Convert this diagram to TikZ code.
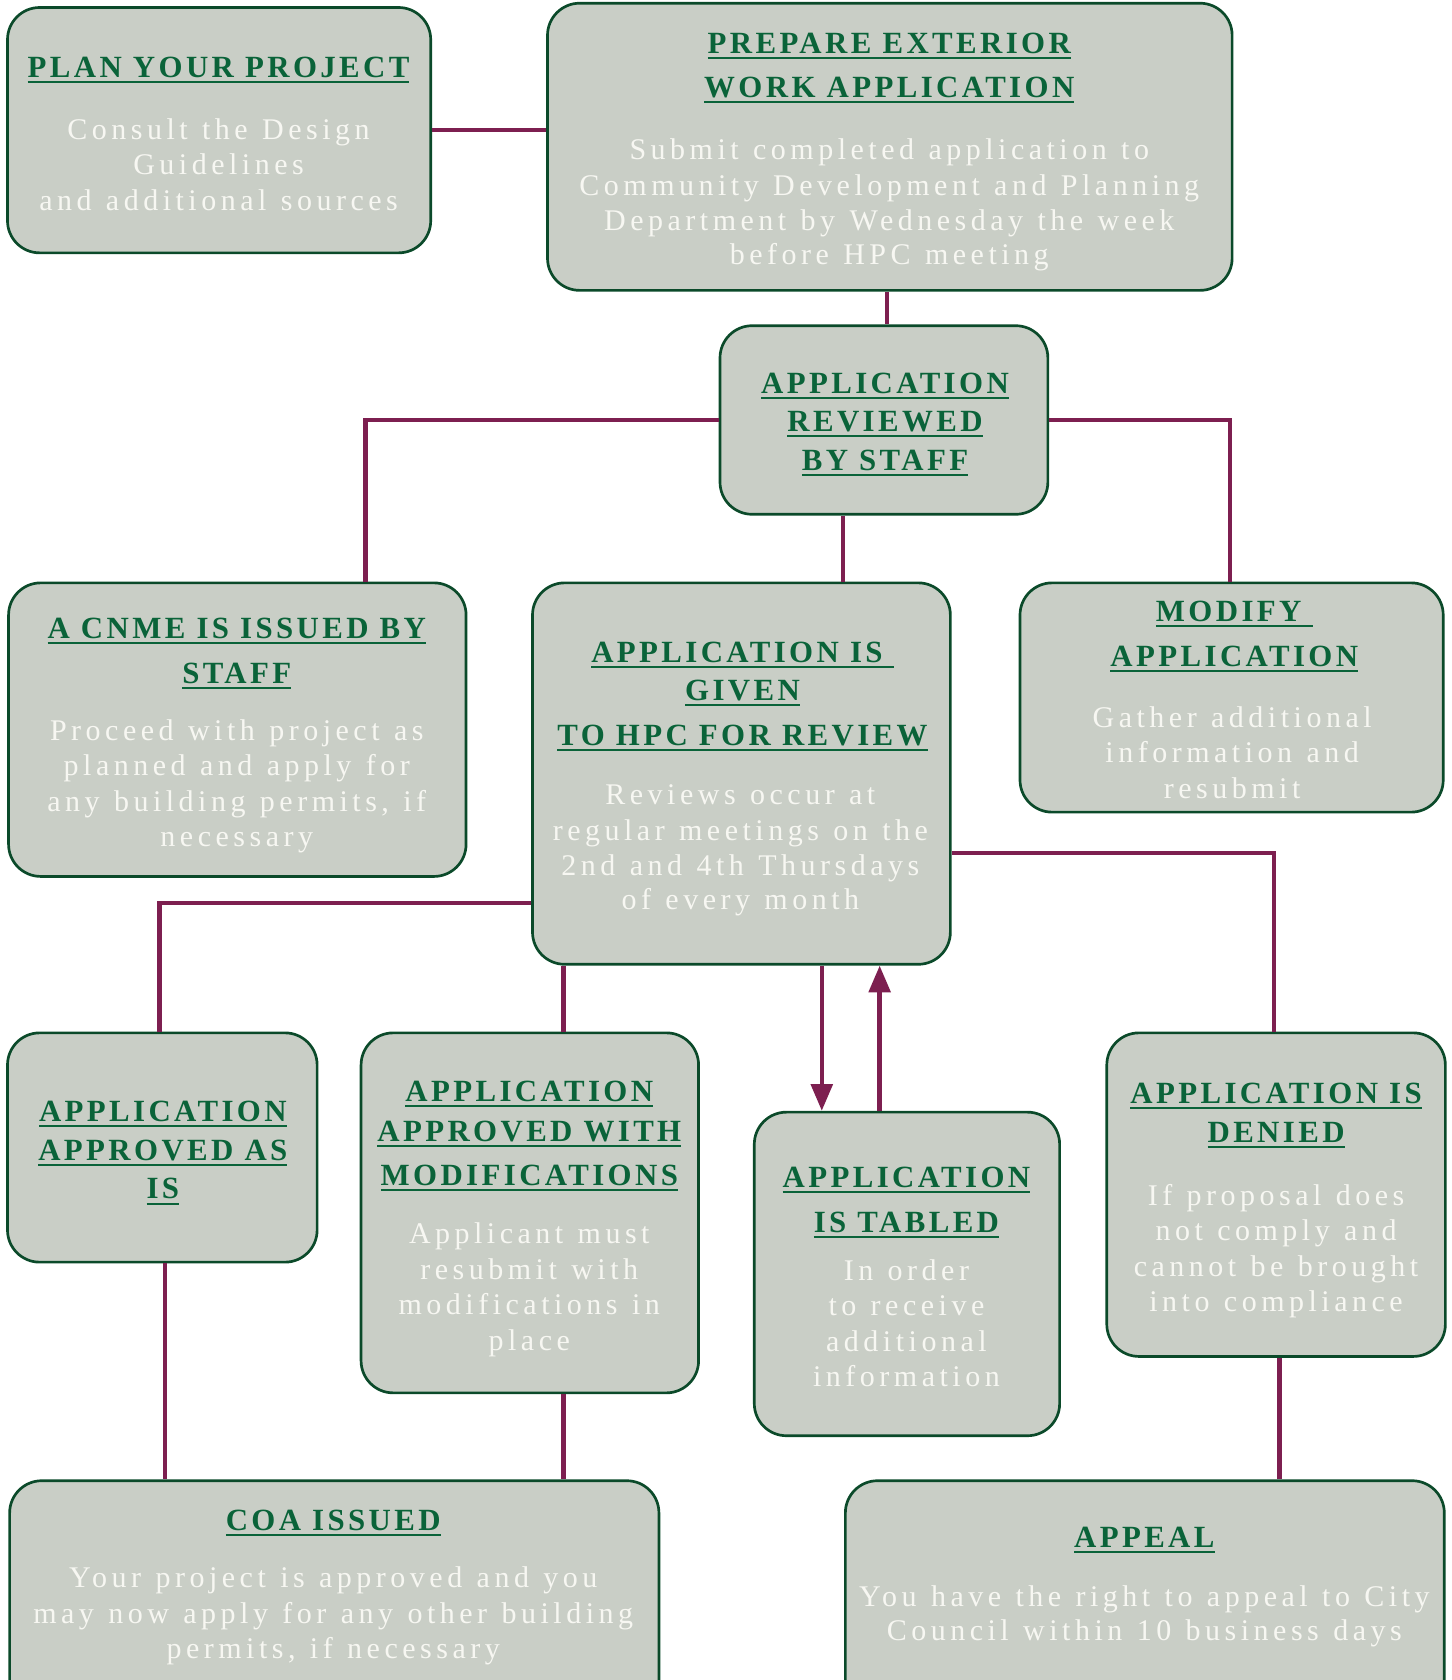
\documentclass[tikz,border=0pt]{standalone}
\usepackage{fontspec}
\setmainfont{Liberation Serif}
\usetikzlibrary{arrows.meta,calc}
\definecolor{boxfill}{HTML}{C9CEC6}
\definecolor{boxline}{HTML}{0B4A2A}
\definecolor{ttlgreen}{HTML}{0A6339}
\definecolor{connred}{HTML}{7D1F50}
\definecolor{bodytxt}{HTML}{F7F7F2}
\newcommand\ul[1]{\setbox0\hbox{#1}\rlap{\color{ttlgreen}\rule[-2.6pt]{\wd0}{0.9pt}}\box0}
\newcommand\bx[5]{\node[box, minimum width={(#4-#2)*0.5pt}, minimum height={(#5-#3)*0.5pt}] (#1) at ({(#2+#4)/2},{(#3+#5)/2}) {};}
\newcommand\tlines[4]{\foreach \yy/\tx [count=\k] in {#4} {\node[#1] (#2-\k) at (#3,\yy) {\tx};}}
\newcommand\widesp{\spaceskip=0.48em\relax}
\tikzset{
 box/.style={draw=boxline, line width=1.25pt, fill=boxfill, rounded corners=15pt, inner sep=0pt},
 ttl/.style={anchor=base, inner sep=0pt, text=ttlgreen, font=\fontsize{14.4}{17}\selectfont\bfseries\addfontfeature{LetterSpace=11}},
 bdy/.style={anchor=base, inner sep=0pt, text=bodytxt, font=\fontsize{14}{16}\selectfont\addfontfeature{LetterSpace=15}\widesp},
 conn/.style={draw=connred, line width=2.1pt},
 arr/.style={conn, -{Triangle[width=10pt,length=12.5pt]}},
}
\begin{document}
\begin{tikzpicture}[x=0.5pt,y=-0.5pt]
\path[use as bounding box, clip] (0,0) rectangle (1355,1568);
\fill[white] (0,0) rectangle (1355,1568);
% boxes
\bx{plan}{7}{7}{402}{236}
\bx{prep}{511}{3}{1150}{271}
\bx{rev}{672}{304}{978}{480}
\bx{cnme}{8}{544}{435}{818}
\bx{hpc}{497}{544}{887}{900}
\bx{modify}{952}{544}{1347}{758}
\bx{asis}{7}{964}{296}{1178}
\bx{mods}{337}{964}{652}{1300}
\bx{tabled}{704}{1038}{989}{1340}
\bx{denied}{1033}{964}{1349}{1266}
\bx{coa}{9}{1382}{615}{1600}
\bx{appeal}{789}{1382}{1348}{1600}
% connectors
\draw[conn] (plan.east) -- (plan.east -| prep.west);
\draw[conn] ($(prep.south)+(-2.5,0)$) -- ($(rev.north)+(3,0)$);
\draw[conn] (rev.west) -| ($(cnme.north)+(119.5,0)$);
\draw[conn] (rev.east) -| ($(modify.north)+(-1.5,0)$);
\draw[conn] ($(rev.south)+(-38,0)$) coordinate (rs) -- (rs |- hpc.north);
\draw[conn] ($(hpc.west)+(0,121)$) -| ($(asis.north)+(-2.5,0)$);
\draw[conn] ($(mods.north)+(31.5,0)$) coordinate (mn) -- (mn |- hpc.south);
\draw[arr] ($(hpc.south)+(75,0)$) coordinate (hs) -- (hs |- tabled.north);
\draw[arr] ($(tabled.north)+(-25.5,0)$) coordinate (tn) -- (tn |- hpc.south);
\draw[conn] ($(hpc.east)+(0,74)$) -| ($(denied.north)+(-2,0)$);
\draw[conn] ($(asis.south)+(2.5,0)$) coordinate (as) -- (as |- coa.north);
\draw[conn] ($(mods.south)+(31.5,0)$) coordinate (ms) -- (ms |- coa.north);
\draw[conn] ($(denied.south)+(3,0)$) coordinate (ds) -- (ds |- appeal.north);
% texts
\tlines{ttl}{planT}{204}{72/{\ul{PLAN YOUR PROJECT}}}
\tlines{bdy}{planB}{204}{130/{Consult the Design},163/{Guidelines},196/{and additional sources}}
\tlines{ttl}{prepT}{830}{50/{\ul{PREPARE EXTERIOR}},91/{\ul{WORK APPLICATION}}}
\tlines{bdy}{prepB}{830}{149/{Submit completed application to},182/{Community Development and Planning},215/{Department by Wednesday the week},247/{before HPC meeting}}
\tlines{ttl}{revT}{826}{367/{\ul{APPLICATION}},403/{\ul{REVIEWED}},439/{\ul{BY STAFF}}}
\tlines{ttl}{cnmeT}{221}{596/{\ul{A CNME IS ISSUED BY}},638/{\ul{STAFF}}}
\tlines{bdy}{cnmeB}{221}{691/{Proceed with project as},724/{planned and apply for},757/{any building permits, if},790/{necessary}}
\tlines{ttl}{hpcT}{693}{618/{\ul{APPLICATION IS\ }},654/{\ul{GIVEN}},696/{\ul{TO HPC FOR REVIEW}}}
\tlines{bdy}{hpcB}{691}{751/{Reviews occur at},784/{regular meetings on the},817/{2nd and 4th Thursdays},849/{of every month}}
\tlines{ttl}{modT}{1152}{580/{\ul{MODIFY\ }},622/{\ul{APPLICATION}}}
\tlines{bdy}{modB}{1150}{679/{Gather additional},712/{information and},745/{resubmit}}
\tlines{ttl}{asisT}{152}{1047/{\ul{APPLICATION}},1083/{\ul{APPROVED AS}},1119/{\ul{IS}}}
\tlines{ttl}{modsT}{494}{1028/{\ul{APPLICATION}},1065/{\ul{APPROVED WITH}},1106/{\ul{MODIFICATIONS}}}
\tlines{bdy}{modsB}{494}{1161/{Applicant must},1194/{resubmit with},1227/{modifications in},1260/{place}}
\tlines{ttl}{tabT}{846}{1108/{\ul{APPLICATION}},1150/{\ul{IS TABLED}}}
\tlines{bdy}{tabB}{846}{1195/{In order},1228/{to receive},1261/{additional},1294/{information}}
\tlines{ttl}{denT}{1191}{1030/{\ul{APPLICATION IS}},1066/{\ul{DENIED}}}
\tlines{bdy}{denB}{1191}{1125/{If proposal does},1158/{not comply and},1191/{cannot be brought},1224/{into compliance}}
\tlines{ttl}{coaT}{311}{1428/{\ul{COA ISSUED}}}
\tlines{bdy}{coaB}{311}{1482/{Your project is approved and you},1515/{may now apply for any other building},1548/{permits, if necessary}}
\tlines{ttl}{appT}{1068}{1444/{\ul{APPEAL}}}
\tlines{bdy}{appB}{1068}{1499/{You have the right to appeal to City},1531/{Council within 10 business days}}
\end{tikzpicture}
\end{document}
